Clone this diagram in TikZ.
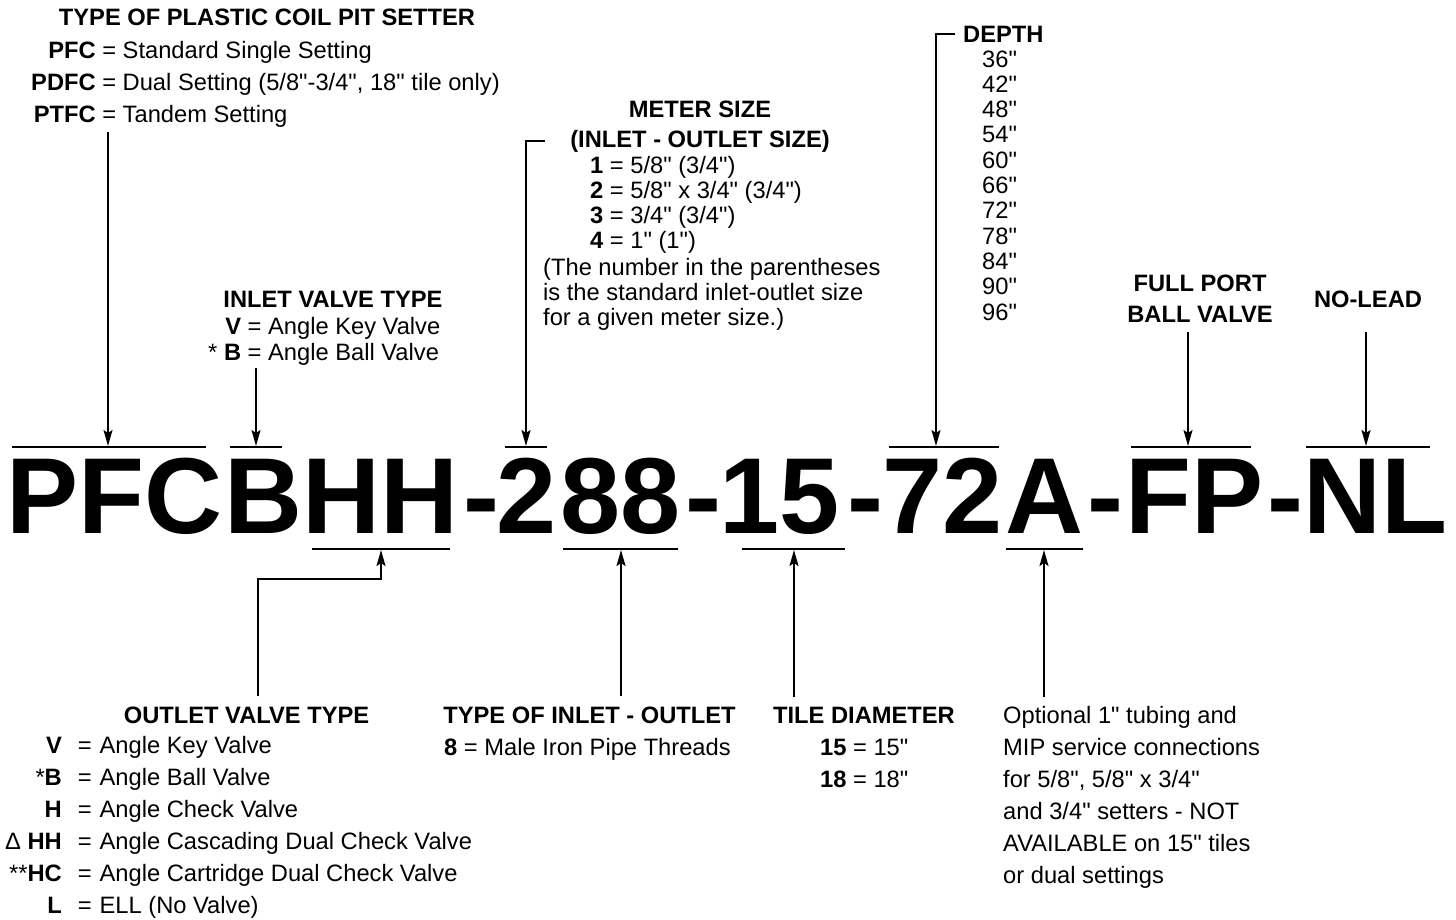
\documentclass[tikz,border=0pt]{standalone}
\usepackage{fontspec}
\setmainfont{Liberation Sans}[Ligatures=TeXOff]
\usetikzlibrary{arrows.meta}
\tikzset{
  code/.style={font=\fontsize{108}{108}\selectfont\bfseries, inner sep=0pt, anchor=base},
  head/.style={font=\fontsize{23.7}{32}\selectfont\bfseries, inner sep=0pt, anchor=base},
  list/.style={font=\fontsize{23.7}{32}\selectfont, inner sep=0pt, anchor=base west},
  tight/.style={list, font=\fontsize{23.7}{25}\selectfont},
  bar/.style={black, line width=2.6pt},
  arr/.style={black, line width=1.8pt, -{Stealth[length=16pt,width=9pt,inset=3pt]}},
  up/.style={arr, shorten <=10pt},
}

\begin{document}
\begin{tikzpicture}[x=1pt,y=-1pt]
  \path[use as bounding box] (0,0) rectangle (1456,919);

  % the model number
  \node[code] (cPFC) at (114,533) {PFC};
  \node[code] (cB)   at (263.5,533) {B};
  \node[code] (cHH)  at (380.5,533) {HH};
  \node[code] (d1)   at (481,533) {-};
  \node[code] (c2)   at (527,533) {2};
  \node[code] (c88)  at (620.5,533) {88};
  \node[code] (d2)   at (703,533) {-};
  \node[code] (c15)  at (780,533) {15};
  \node[code] (d3)   at (865,533) {-};
  \node[code] (c72)  at (942.5,533) {72};
  \node[code] (cA)   at (1044,533) {A};
  \node[code] (d4)   at (1105.5,533) {-};
  \node[code] (cFP)  at (1194,533) {FP};
  \node[code] (d5)   at (1285.5,533) {-};
  \node[code] (cNL)  at (1375.5,533) {NL};

  % over- and underlines
  \draw[bar] (12,447) -- (206,447);
  \draw[bar] (230,447) -- (282,447);
  \draw[bar] (312,549) -- (450,549);
  \draw[bar] (505,447) -- (547,447);
  \draw[bar] (563,549) -- (678,549);
  \draw[bar] (742,549) -- (845,549);
  \draw[bar] (889,447) -- (999,447);
  \draw[bar] (1006,549) -- (1083,549);
  \draw[bar] (1131,447) -- (1251,447);
  \draw[bar] (1306,447) -- (1430,447);

  \coordinate (tPFC) at (108,446);
  \coordinate (tB)   at (256,446);
  \coordinate (t2)   at (526,446);
  \coordinate (t72)  at (936,446);
  \coordinate (tFP)  at (1188,446);
  \coordinate (tNL)  at (1366,446);
  \coordinate (uHH)  at (381,550);
  \coordinate (u88)  at (621,550);
  \coordinate (u15)  at (794,550);
  \coordinate (uA)   at (1044,550);

  % setter type
  \node[head] (setHead) at (267,25) {TYPE OF PLASTIC COIL PIT SETTER};
  \node[list] (setList) at (31,58)
    {\begin{tabular}[t]{@{}r@{\ =\ }l@{}}
       \textbf{PFC} & Standard Single Setting\\
       \textbf{PDFC} & Dual Setting (5/8"-3/4", 18" tile only)\\
       \textbf{PTFC} & Tandem Setting
     \end{tabular}};
  \draw[arr] (setList.south -| tPFC) -- (tPFC);

  % inlet valve
  \node[head] (inHead) at (333,307) {INLET VALVE TYPE};
  \node[list, font=\fontsize{23.7}{26}\selectfont] (inList) at (208,334)
    {\begin{tabular}[t]{@{}r@{\ =\ }l@{}}
       \textbf{V} & Angle Key Valve\\
       {*}\ \textbf{B} & Angle Ball Valve
     \end{tabular}};
  \draw[arr] (inList.south -| tB) -- (tB);

  % meter size
  \node[head] (meterHead) at (700,117) {METER SIZE};
  \node[head] (meterSub) at (700,147) {(INLET - OUTLET SIZE)};
  \node[tight] (meterList) at (590,173)
    {\begin{tabular}[t]{@{}l@{}}
       \textbf{1} = 5/8" (3/4")\\
       \textbf{2} = 5/8" x 3/4" (3/4")\\
       \textbf{3} = 3/4" (3/4")\\
       \textbf{4} = 1" (1")
     \end{tabular}};
  \node[tight] (meterNote) at (543,275)
    {\begin{tabular}[t]{@{}l@{}}
       (The number in the parentheses\\
       is the standard inlet-outlet size\\
       for a given meter size.)
     \end{tabular}};
  \draw[arr] ([xshift=-25pt]meterSub.west) -| (t2);

  % depth
  \node[head, anchor=base west] (depthHead) at (963,42) {DEPTH};
  \node[list, font=\fontsize{23.7}{25.3}\selectfont] (depthList) at (982,67)
    {\begin{tabular}[t]{@{}l@{}}
       36"\\ 42"\\ 48"\\ 54"\\ 60"\\ 66"\\ 72"\\ 78"\\ 84"\\ 90"\\ 96"
     \end{tabular}};
  \draw[arr] ([xshift=-8pt]depthHead.west) -| (t72);

  % full port and no-lead
  \node[head, font=\fontsize{23.7}{31}\selectfont\bfseries] (fpHead) at (1200,291)
    {\begin{tabular}[t]{@{}c@{}}FULL PORT\\ BALL VALVE\end{tabular}};
  \node[head] (nlHead) at (1368,307) {NO-LEAD};
  \draw[arr] (fpHead.south -| tFP) -- (tFP);
  \draw[arr] (fpHead.south -| tNL) -- (tNL);

  % outlet valve
  \node[head] (outHead) at (246.5,723) {OUTLET VALVE TYPE};
  \node[list] (outList) at (5,753)
    {\begin{tabular}[t]{@{}r@{\hspace{16pt}=\hspace{8pt}}l@{}}
       \textbf{V} & Angle Key Valve\\
       {*}\textbf{B} & Angle Ball Valve\\
       \textbf{H} & Angle Check Valve\\
       Δ\ \textbf{HH} & Angle Cascading Dual Check Valve\\
       {**}\textbf{HC} & Angle Cartridge Dual Check Valve\\
       \textbf{L} & ELL (No Valve)
     \end{tabular}};
  \draw[up] ([xshift=11.5pt]outHead.north) |- ([yshift=-29pt]uHH) -- (uHH);

  % inlet-outlet type
  \node[head] (ioHead) at (589.5,723) {TYPE OF INLET - OUTLET};
  \node[list] (ioList) at (444,755) {\textbf{8} = Male Iron Pipe Threads};
  \draw[up] (ioHead.north -| u88) -- (u88);

  % tile diameter
  \node[head] (tileHead) at (864,723) {TILE DIAMETER};
  \node[list] (tileList) at (820,755)
    {\begin{tabular}[t]{@{}l@{}}
       \textbf{15} = 15"\\
       \textbf{18} = 18"
     \end{tabular}};
  \draw[up] (tileHead.north -| u15) -- (u15);

  % optional connections
  \node[list] (optNote) at (1003,723)
    {\begin{tabular}[t]{@{}l@{}}
       Optional 1" tubing and\\
       MIP service connections\\
       for 5/8", 5/8" x 3/4"\\
       and 3/4" setters - NOT\\
       AVAILABLE on 15" tiles\\
       or dual settings
     \end{tabular}};
  \draw[up] (tileHead.north -| uA) -- (uA);
\end{tikzpicture}
\end{document}
